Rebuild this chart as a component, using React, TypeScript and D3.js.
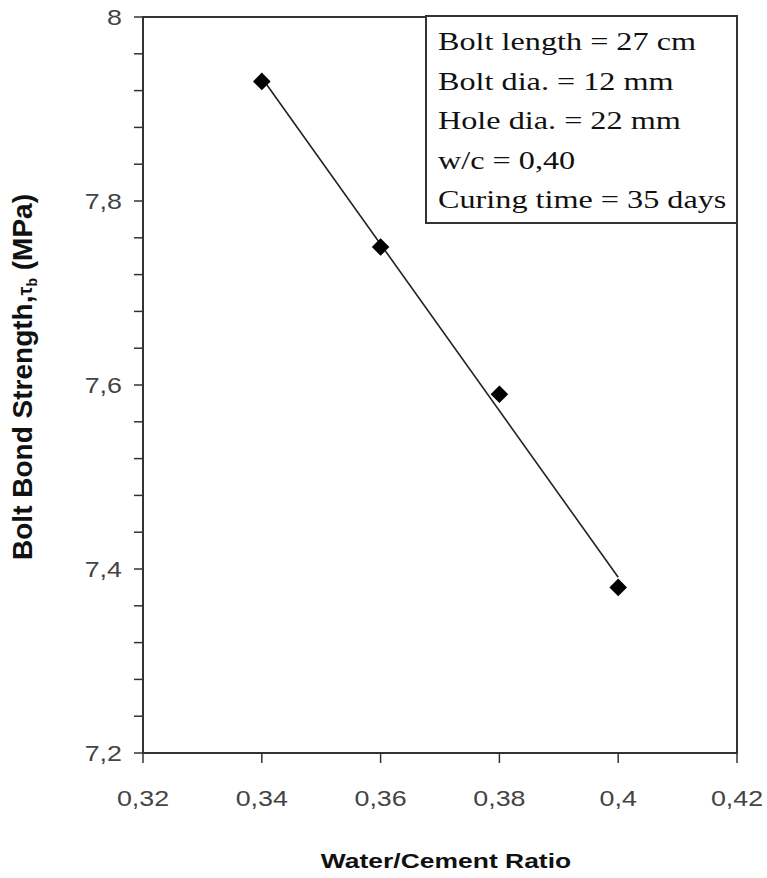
import React from "react";
import * as d3 from "d3";

// Water/cement ratio vs. bolt bond strength
const ratios = [0.34, 0.36, 0.38, 0.4];
const strengths = [7.93, 7.75, 7.59, 7.38];

const xTicks = [0.32, 0.34, 0.36, 0.38, 0.4, 0.42];
const yMajorTicks = [7.2, 7.4, 7.6, 7.8, 8];
const yMinorTicks = d3.range(7.2, 8.0001, 0.04);

const infoLines = [
  "Bolt length = 27 cm",
  "Bolt dia. = 12 mm",
  "Hole dia. = 22 mm",
  "w/c = 0,40",
  "Curing time = 35 days",
];

const W = 767;
const H = 878;
const left = 143;
const right = 737;
const top = 17;
const bottom = 753;

const fmt = (v: number) => String(+v.toFixed(2)).replace(".", ",");

export default function App() {
  const x = d3.scaleLinear().domain([0.32, 0.42]).range([left, right]);
  const y = d3.scaleLinear().domain([7.2, 8]).range([bottom, top]);

  // least-squares trend line
  const mx = d3.mean(ratios)!;
  const my = d3.mean(strengths)!;
  const slope =
    d3.sum(ratios.map((r, i) => (r - mx) * (strengths[i] - my))) /
    d3.sum(ratios.map((r) => (r - mx) ** 2));
  const fit = (r: number) => my + slope * (r - mx);
  const x0 = d3.min(ratios)!;
  const x1 = d3.max(ratios)!;
  const trend = d3
    .line<number>()
    .x((r) => x(r))
    .y((r) => y(fit(r)))([x0, x1])!;

  const diamond = d3.symbol().type(d3.symbolSquare).size(155)()!;

  const axisColor = "#333";
  const labelFont = "Liberation Sans, Arial, sans-serif";
  const sx = 1.22; // horizontal widening of the label glyphs

  return (
    <svg
      width={W}
      height={H}
      style={{ display: "block", position: "absolute", left: 0, top: 0 }}
    >
      <rect width={W} height={H} fill="#fff" />
      {/* frame */}
      <rect
        x={left}
        y={top}
        width={right - left}
        height={bottom - top}
        fill="none"
        stroke={axisColor}
        strokeWidth={2}
      />
      {/* y ticks */}
      {yMinorTicks.map((t, i) => (
        <line key={"ym" + i} x1={left - 9} x2={left} y1={y(t)} y2={y(t)} stroke={axisColor} strokeWidth={1.5} />
      ))}
      {yMajorTicks.map((t) => (
        <text
          key={"yl" + t}
          transform={`translate(122,${y(t)}) scale(${sx},1)`}
          dy="0.36em"
          textAnchor="end"
          fontFamily={labelFont}
          fontSize={22}
          fill="#444"
        >
          {fmt(t)}
        </text>
      ))}
      {/* x ticks */}
      {xTicks.map((t) => (
        <g key={"x" + t}>
          <line x1={x(t)} x2={x(t)} y1={bottom} y2={bottom + 10} stroke={axisColor} strokeWidth={1.5} />
          <text
            transform={`translate(${x(t)},${bottom + 53}) scale(${sx},1)`}
            textAnchor="middle"
            fontFamily={labelFont}
            fontSize={22}
            fill="#444"
          >
            {fmt(t)}
          </text>
        </g>
      ))}
      {/* trend line */}
      <path d={trend} fill="none" stroke="#222" strokeWidth={1.6} />
      {/* data points */}
      {ratios.map((r, i) => (
        <path
          key={"p" + i}
          d={diamond}
          transform={`translate(${x(r)},${y(strengths[i])}) rotate(45)`}
          fill="#000"
        />
      ))}
      {/* info box */}
      <rect x={426} y={16} width={311} height={207} fill="#fff" stroke={axisColor} strokeWidth={2} />
      {infoLines.map((s, i) => (
        <text
          key={"i" + i}
          transform={`translate(438,${50 + i * 39.5}) scale(1.24,1)`}
          fontFamily="Liberation Serif, Times New Roman, serif"
          fontSize={26}
          fill="#111"
        >
          {s}
        </text>
      ))}
      {/* axis titles */}
      <text
        transform={`translate(446,868) scale(1.26,1)`}
        textAnchor="middle"
        fontFamily={labelFont}
        fontWeight="bold"
        fontSize={21}
        fill="#111"
      >
        Water/Cement Ratio
      </text>
      <text
        transform={`translate(32,377) rotate(-90)`}
        textAnchor="middle"
        fontFamily={labelFont}
        fontWeight="bold"
        fontSize={28}
        fill="#111"
      >
        Bolt Bond Strength,
        <tspan fontSize={20}>τ</tspan>
        <tspan fontSize={14} dy={5}>b</tspan>
        <tspan dy={-5}> (MPa)</tspan>
      </text>
    </svg>
  );
}
